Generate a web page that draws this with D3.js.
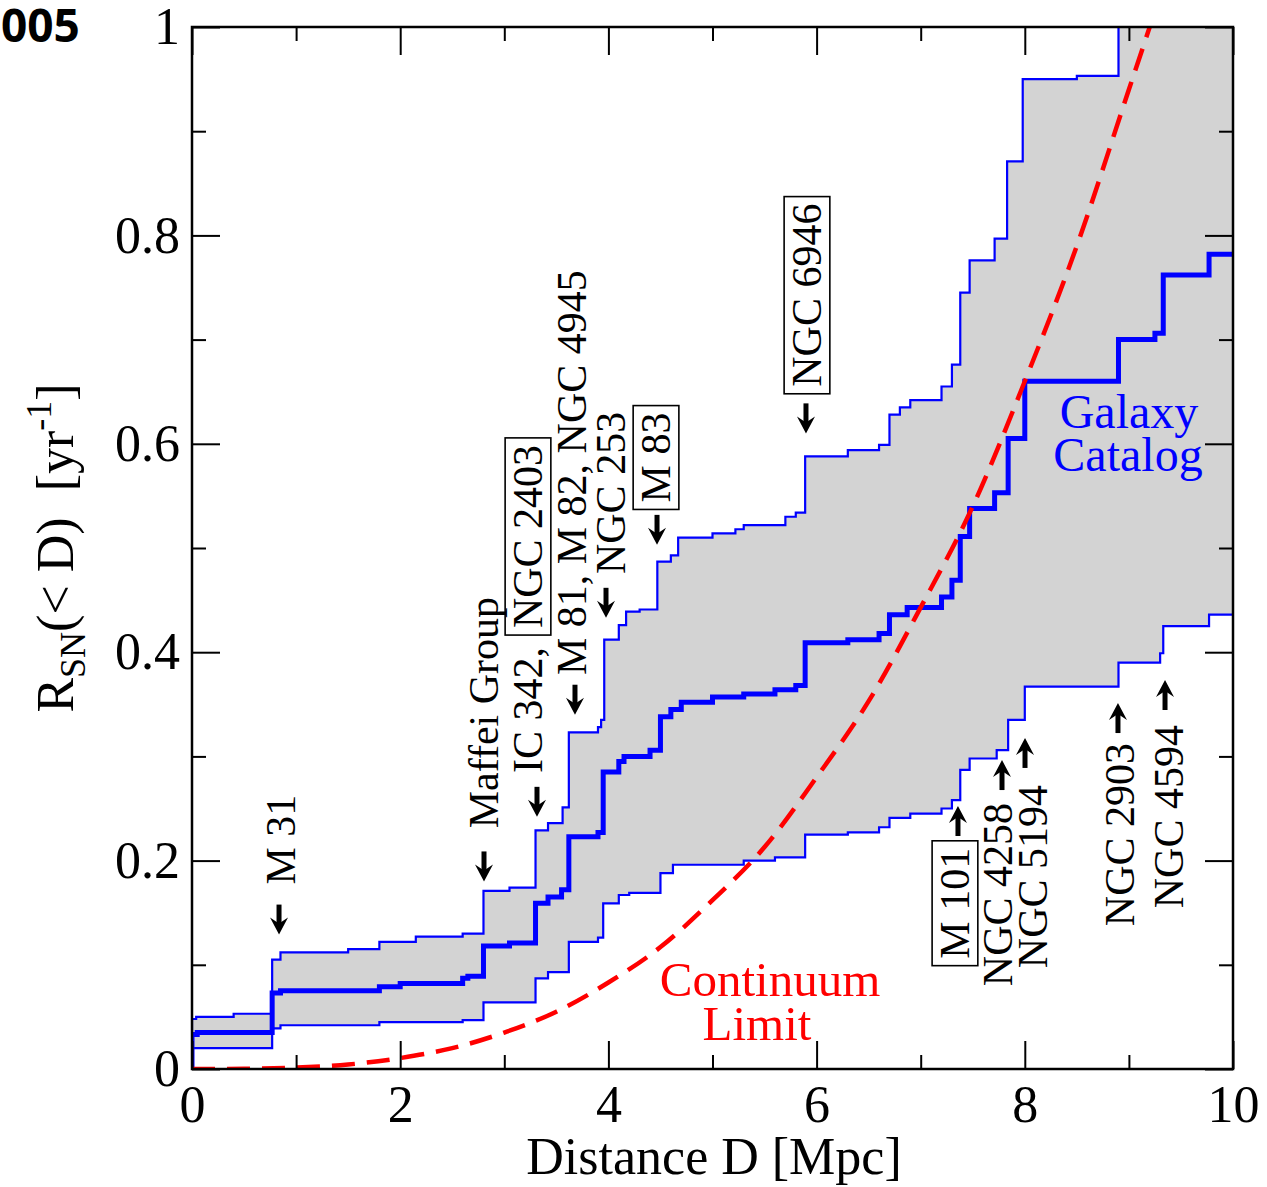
<!DOCTYPE html>
<html><head><meta charset="utf-8">
<script src="https://cdn.jsdelivr.net/npm/d3@7"></script>
<style>html,body{margin:0;padding:0;background:#fff;} svg{display:block;}</style>
</head><body>
<svg id="chart" width="1267" height="1187"></svg>
<script>
// ---------- data ----------
// [distance D in Mpc, rate R_SN(<D) in 1/yr], step functions (value holds until next D)
const upperBound = [[0,0],[0,0.048],[0.04,0.05],[0.4,0.053],[0.77,0.105],[0.85,0.112],[1.5,0.115],[1.8,0.122],[2.15,0.127],[2.6,0.13],[2.8,0.171],[3.05,0.174],[3.3,0.229],[3.42,0.236],[3.56,0.251],[3.62,0.323],[3.9,0.328],[3.93,0.335],[3.96,0.412],[4.1,0.426],[4.17,0.439],[4.3,0.441],[4.47,0.487],[4.6,0.493],[4.67,0.51],[5.0,0.514],[5.22,0.518],[5.3,0.522],[5.7,0.53],[5.8,0.534],[5.89,0.588],[6.3,0.594],[6.6,0.599],[6.7,0.628],[6.8,0.635],[6.9,0.642],[7.2,0.655],[7.3,0.676],[7.38,0.745],[7.47,0.776],[7.71,0.797],[7.83,0.871],[7.98,0.95],[8.5,0.953],[8.9,1.06],[10,1.06]];
const bestEstimate = [[0,0],[0,0.033],[0.05,0.035],[0.77,0.073],[0.85,0.075],[1.8,0.079],[2.0,0.082],[2.6,0.087],[2.65,0.089],[2.8,0.118],[3.05,0.121],[3.3,0.159],[3.42,0.165],[3.55,0.172],[3.62,0.223],[3.9,0.227],[3.95,0.285],[4.1,0.295],[4.15,0.3],[4.4,0.306],[4.5,0.338],[4.6,0.345],[4.7,0.352],[5.0,0.357],[5.3,0.36],[5.6,0.364],[5.8,0.368],[5.89,0.409],[6.3,0.412],[6.6,0.418],[6.7,0.436],[6.87,0.443],[7.2,0.453],[7.3,0.469],[7.38,0.511],[7.47,0.538],[7.71,0.553],[7.84,0.605],[8.0,0.66],[8.9,0.7],[9.25,0.706],[9.33,0.762],[9.77,0.782],[10,0.783]];
const lowerBound = [[0,0],[0,0.02],[0.77,0.039],[0.85,0.042],[1.8,0.045],[2.6,0.047],[2.8,0.064],[3.3,0.087],[3.42,0.093],[3.62,0.122],[3.9,0.126],[3.95,0.159],[4.1,0.167],[4.2,0.169],[4.5,0.188],[4.62,0.196],[5.3,0.2],[5.6,0.203],[5.89,0.225],[6.3,0.227],[6.6,0.232],[6.7,0.241],[6.9,0.245],[7.2,0.25],[7.3,0.258],[7.38,0.287],[7.47,0.298],[7.73,0.306],[7.84,0.335],[8.0,0.367],[8.9,0.39],[9.3,0.399],[9.33,0.425],[9.77,0.436],[10,0.437]];
const continuumLimit = [[0,0],[0.5,0.0002],[1,0.0013],[1.5,0.0043],[2,0.0105],[2.5,0.02],[3,0.035],[3.5,0.055],[4,0.083],[4.5,0.117],[5,0.162],[5.5,0.213],[6,0.28],[6.5,0.353],[7,0.443],[7.5,0.54],[8,0.66],[8.5,0.79],[9,0.94],[9.3,1.03]];

const xTicksMajor = [0,2,4,6,8,10];
const xTickLabels = ["0","2","4","6","8","10"];
const xTicksMinor = [1,3,5,7,9];
const yTicksMajor = [0,0.2,0.4,0.6,0.8,1];
const yTickLabels = ["0","0.2","0.4","0.6","0.8","1"];
const yTicksMinor = [0.1,0.3,0.5,0.7,0.9];

// galaxy annotations: arrow tip (D, R), text near-end R, arrow direction
const annotations = [
  {pre:"M 31", boxed:"", D:0.836, tip:0.129, textAt:0.177, dir:"down", dx:2},
  {pre:"Maffei Group", boxed:"", D:2.805, tip:0.18, textAt:0.231, dir:"down", dx:0},
  {pre:"IC 342, ", boxed:"NGC 2403", D:3.314, tip:0.242, textAt:0.284, dir:"down", dx:-9},
  {pre:"M 81, M 82, NGC 4945", boxed:"", D:3.679, tip:0.34, textAt:0.378, dir:"down", dx:-3},
  {pre:"NGC 253", boxed:"", D:3.977, tip:0.433, textAt:0.475, dir:"down", dx:5},
  {pre:"", boxed:"M 83", D:4.467, tip:0.503, textAt:0.537, dir:"down", dx:-1},
  {pre:"", boxed:"NGC 6946", D:5.898, tip:0.61, textAt:0.648, dir:"down", dx:1},
  {pre:"", boxed:"M 101", D:7.358, tip:0.2524, textAt:0.219, dir:"up", dx:-3},
  {pre:"NGC 4258", boxed:"", D:7.781, tip:0.2965, textAt:0.2553, dir:"up", dx:-4},
  {pre:"NGC 5194", boxed:"", D:8.002, tip:0.3177, textAt:0.2726, dir:"up", dx:8},
  {pre:"NGC 2903", boxed:"", D:8.895, tip:0.3512, textAt:0.3129, dir:"up", dx:2},
  {pre:"NGC 4594", boxed:"", D:9.347, tip:0.3733, textAt:0.3301, dir:"up", dx:4}
];

// ---------- layout ----------
const svg = d3.select("#chart");
const L = 192, T = 27, W = 1041, H = 1042;
const x = d3.scaleLinear().domain([0,10]).range([L, L+W]);
const y = d3.scaleLinear().domain([0,1]).range([T+H, T]);
const serif = "'Liberation Serif','Times New Roman',serif";

svg.append("defs").append("clipPath").attr("id","plotclip")
  .append("rect").attr("x",L).attr("y",T).attr("width",W).attr("height",H);

const plot = svg.append("g").attr("clip-path","url(#plotclip)");

function stepVal(series, d){
  let v = 0;
  for (const p of series){ if (p[0] <= d) v = p[1]; else break; }
  return v;
}
const xs = Array.from(new Set(upperBound.concat(lowerBound).map(p=>p[0]))).sort((a,b)=>a-b);
const band = xs.map(d=>({D:d, hi:stepVal(upperBound,d), lo:stepVal(lowerBound,d)}));

plot.append("path").datum(band)
  .attr("d", d3.area().curve(d3.curveStepAfter).x(d=>x(d.D)).y0(d=>y(d.lo)).y1(d=>y(d.hi)))
  .attr("fill","#d3d3d3").attr("stroke","none");

const stepLine = d3.line().curve(d3.curveStepAfter).x(d=>x(d[0])).y(d=>y(d[1]));
plot.append("path").datum(lowerBound).attr("d",stepLine).attr("fill","none").attr("stroke","#0000ff").attr("stroke-width",2.2);
plot.append("path").datum(upperBound).attr("d",stepLine).attr("fill","none").attr("stroke","#0000ff").attr("stroke-width",2.2);
plot.append("path").datum(bestEstimate).attr("d",stepLine).attr("fill","none").attr("stroke","#0000ff").attr("stroke-width",5);

plot.append("path").datum(continuumLimit)
  .attr("d", d3.line().curve(d3.curveMonotoneX).x(d=>x(d[0])).y(d=>y(d[1])))
  .attr("fill","none").attr("stroke","#ff0000").attr("stroke-width",4.5)
  .attr("stroke-dasharray","23,12");

// ---------- axes ----------
function styleAxis(g){
  g.select(".domain").remove();
  g.selectAll(".tick line").attr("stroke","#000").attr("stroke-width",2);
  g.selectAll(".tick text").attr("font-family",serif).attr("font-size",52).attr("fill","#000");
}
svg.append("g").attr("transform",`translate(0,${T+H})`)
  .call(d3.axisBottom(x).tickValues(xTicksMajor).tickSize(-28).tickPadding(16).tickFormat((d,i)=>xTickLabels[i]))
  .call(styleAxis);
svg.append("g").attr("transform",`translate(0,${T+H})`)
  .call(d3.axisBottom(x).tickValues(xTicksMinor).tickSize(-14).tickFormat(""))
  .call(styleAxis);
svg.append("g").attr("transform",`translate(0,${T})`)
  .call(d3.axisTop(x).tickValues(xTicksMajor).tickSize(-28).tickFormat(""))
  .call(styleAxis);
svg.append("g").attr("transform",`translate(0,${T})`)
  .call(d3.axisTop(x).tickValues(xTicksMinor).tickSize(-14).tickFormat(""))
  .call(styleAxis);
svg.append("g").attr("transform",`translate(${L},0)`)
  .call(d3.axisLeft(y).tickValues(yTicksMajor).tickSize(-28).tickPadding(12).tickFormat((d,i)=>yTickLabels[i]))
  .call(styleAxis);
svg.append("g").attr("transform",`translate(${L},0)`)
  .call(d3.axisLeft(y).tickValues(yTicksMinor).tickSize(-14).tickFormat(""))
  .call(styleAxis);
svg.append("g").attr("transform",`translate(${L+W},0)`)
  .call(d3.axisRight(y).tickValues(yTicksMajor).tickSize(-28).tickFormat(""))
  .call(styleAxis);
svg.append("g").attr("transform",`translate(${L+W},0)`)
  .call(d3.axisRight(y).tickValues(yTicksMinor).tickSize(-14).tickFormat(""))
  .call(styleAxis);

svg.append("rect").attr("x",L).attr("y",T).attr("width",W).attr("height",H)
  .attr("fill","none").attr("stroke","#000").attr("stroke-width",2.5);

// axis titles
svg.append("text").attr("x",714).attr("y",1174).attr("text-anchor","middle")
  .attr("font-family",serif).attr("font-size",52).text("Distance D [Mpc]");

const yt = svg.append("text").attr("transform","translate(73,548) rotate(-90)")
  .attr("text-anchor","middle").attr("font-family",serif).attr("font-size",52);
yt.append("tspan").text("R");
yt.append("tspan").attr("font-size",36).attr("dy",12).text("SN");
yt.append("tspan").attr("dy",-12).text("(< D)\u00a0\u00a0[yr");
yt.append("tspan").attr("font-size",36).attr("dy",-22).text("-1");
yt.append("tspan").attr("dy",22).text("]");

// corner label
svg.append("text").attr("x",1).attr("y",42).attr("font-family","'Open Sans',sans-serif")
  .attr("font-weight","bold").attr("font-size",46).text("005");

// series labels
const gal = svg.append("text").attr("font-family",serif).attr("font-size",48).attr("fill","#0000ff").attr("text-anchor","middle");
gal.append("tspan").attr("x",1129).attr("y",428).text("Galaxy");
gal.append("tspan").attr("x",1128).attr("y",471).text("Catalog");
const con = svg.append("text").attr("font-family",serif).attr("font-size",49).attr("fill","#ff0000").attr("text-anchor","middle");
con.append("tspan").attr("x",770).attr("y",996).text("Continuum");
con.append("tspan").attr("x",757).attr("y",1040).text("Limit");

// ---------- annotations ----------
const fs = 42, capH = 0.66*fs, arrowLen = 30;
annotations.forEach(a=>{
  const ax = x(a.D), ty = y(a.tip);
  const g = svg.append("g");
  const dirSign = a.dir === "down" ? 1 : -1;
  const tail = ty - dirSign*arrowLen;
  g.append("line").attr("x1",ax).attr("x2",ax).attr("y1",tail).attr("y2",ty - dirSign*10)
    .attr("stroke","#000").attr("stroke-width",5);
  g.append("path").attr("d",`M${ax},${ty} L${ax-9},${ty-dirSign*17} L${ax},${ty-dirSign*11} L${ax+9},${ty-dirSign*17} Z`)
    .attr("fill","#000");

  const bx = ax + a.dx + capH/2;
  const sy = y(a.textAt);
  const tg = svg.append("g").attr("transform",`translate(${bx},${sy}) rotate(-90)`);
  const mk = (sel)=>sel.append("text").attr("font-family",serif).attr("font-size",fs).attr("fill","#000");
  const pad = 7;
  if (a.dir === "down"){
    let pos = 0;
    if (a.pre){
      const t = mk(tg).attr("x",0).attr("y",0).text(a.pre.trim());
      pos = t.node().getComputedTextLength() + (a.boxed ? 12 : 0);
    }
    if (a.boxed){
      const t2 = mk(tg).attr("x",pos+pad).attr("y",0).text(a.boxed);
      const len = t2.node().getComputedTextLength();
      tg.insert("rect","text").attr("x",pos).attr("y",-capH-9).attr("width",len+2*pad).attr("height",capH+18)
        .attr("fill","none").attr("stroke","#000").attr("stroke-width",1.6);
    }
  } else {
    if (a.boxed){
      const t2 = mk(tg).attr("x",-pad).attr("y",0).attr("text-anchor","end").text(a.boxed);
      const len = t2.node().getComputedTextLength();
      tg.insert("rect","text").attr("x",-len-2*pad).attr("y",-capH-9).attr("width",len+2*pad).attr("height",capH+18)
        .attr("fill","none").attr("stroke","#000").attr("stroke-width",1.6);
    } else {
      mk(tg).attr("x",0).attr("y",0).attr("text-anchor","end").text(a.pre);
    }
  }
});
</script>
</body></html>
